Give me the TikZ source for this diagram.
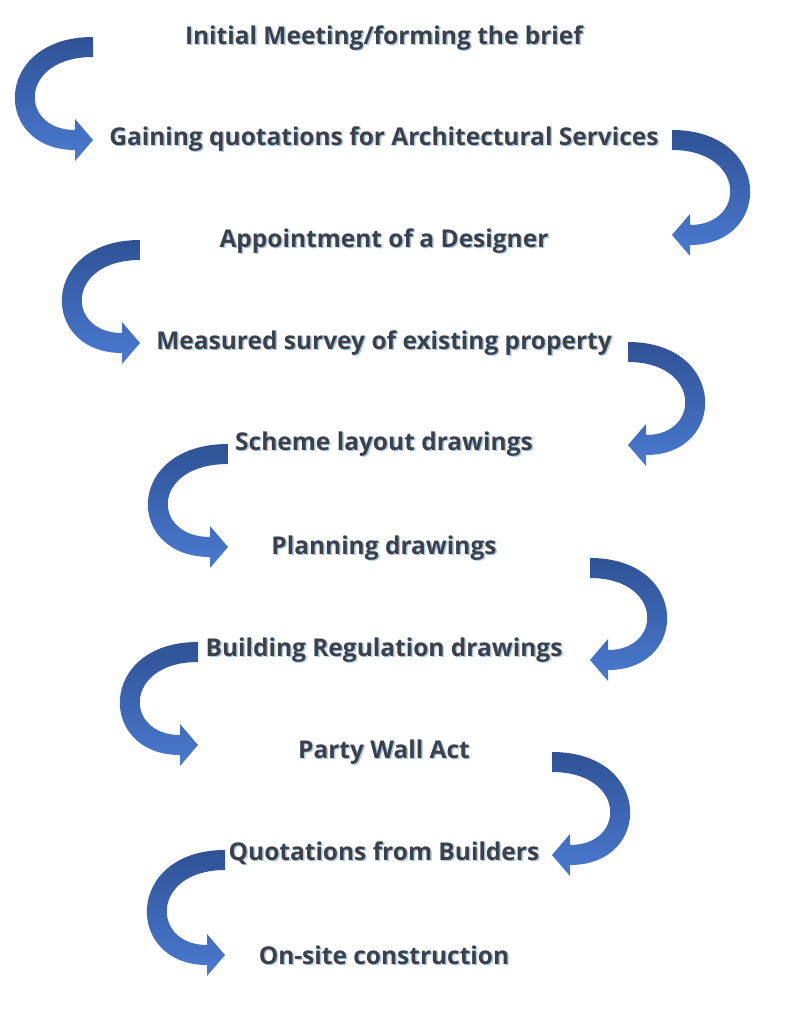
\documentclass[tikz,border=0pt]{standalone}
\usepackage{fontspec}
\setmainfont{Open Sans}
\definecolor{adark}{RGB}{47,82,150}
\definecolor{alight}{RGB}{74,122,208}
\definecolor{tcol}{RGB}{60,64,72}
\definecolor{gcol}{RGB}{170,200,235}
\begin{document}
\begin{tikzpicture}[x=1pt,y=-1pt]
\useasboundingbox[fill=white] (0,0) rectangle (794,1030);
\tikzset{lbl/.style={font=\bfseries\fontsize{24.5}{28}\selectfont,text=tcol,inner sep=0pt},
 glow/.style={font=\bfseries\fontsize{24.5}{28}\selectfont,text=gcol,inner sep=0pt}}
% \carrow{name}{R}{T}{L}{H}{B}{s}
\newcommand\carrow[7]{%
 \pgfmathsetmacro\hb{#5-18*#7}%
 \pgfmathsetmacro\co{(#4-0.125*(#2+\hb))/0.75}%
 \pgfmathsetmacro\ci{(#4+20*#7-0.125*(#2+\hb))/0.75}%
 \pgfmathsetmacro\ty{#3+20}%
 \pgfmathsetmacro\bl{#6+10}\pgfmathsetmacro\bu{#6-10}%
 \pgfmathsetmacro\hl{#6+21}\pgfmathsetmacro\hu{#6-21}%
 \coordinate (#1-a) at (#2,#3);
 \shade[top color=adark, bottom color=alight]
 (#1-a) .. controls (\co,#3) and (\co,\bl) .. (\hb,\bl) -- (\hb,\hl) -- (#5,#6) -- (\hb,\hu) -- (\hb,\bu)
 .. controls (\ci,\bu) and (\ci,\ty) .. (#2,\ty) -- cycle;}
\carrow{a1}{93}{37}{15}{93}{140}{1}
\carrow{a2}{672}{130}{750}{672}{235}{-1}
\carrow{a3}{140}{240}{62}{140}{343}{1}
\carrow{a4}{628}{342}{705}{628}{445}{-1}
\carrow{a5}{228}{444}{148}{228}{547}{1}
\carrow{a6}{590}{558}{667}{590}{660}{-1}
\carrow{a7}{198}{642}{120}{198}{745}{1}
\carrow{a8}{552}{752}{630}{552}{855}{-1}
\carrow{a9}{225}{850}{147}{225}{955}{1}
\foreach \n/\y/\t in {t1/38/Initial Meeting\slash forming the brief,
 t2/139/Gaining quotations for Architectural Services,
 t3/241/Appointment of a Designer,
 t4/343/Measured survey of existing property,
 t5/444/Scheme layout drawings,
 t6/548/Planning drawings,
 t7/650/Building Regulation drawings,
 t8/752/Party Wall Act,
 t9/853/Quotations from Builders,
 t10/955/On-site construction}{
 \node[glow] (\n-g) at (385.5,\y+1.5) {\t};
 \node[lbl] (\n) at (384,\y) {\t};
}
\end{tikzpicture}
\end{document}
